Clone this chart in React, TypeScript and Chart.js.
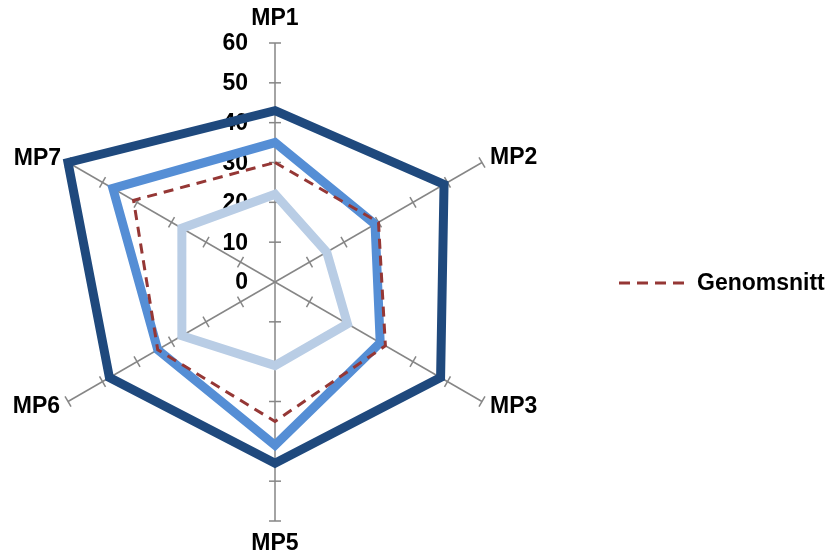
import React, { useEffect, useRef } from "react";
import { Chart, registerables } from "chart.js";

Chart.register(...registerables);

const categories = ["MP1", "MP2", "MP3", "MP5", "MP6", "MP7"];
const seriesDark = [43, 49, 48, 45.5, 48, 60];
const seriesMedium = [35, 29, 30.5, 41, 34, 47];
const seriesLight = [22, 15, 21, 21, 27, 27];
const seriesAverage = [30, 30, 32, 35, 34, 41];
const averageLabel = "Genomsnitt";
const tickValues = [0, 10, 20, 30, 40, 50, 60];

const FONT = "bold 23px 'Liberation Sans', Arial, sans-serif";
const AXIS_COLOR = "#868686";
const AVG_COLOR = "#953735";

const overlayPlugin = {
  id: "overlay",
  beforeDatasetsDraw(chart: any) {
    const scale = chart.scales.r;
    const ctx = chart.ctx;
    const n = categories.length;
    ctx.save();
    // tick marks on every axis
    ctx.strokeStyle = AXIS_COLOR;
    ctx.lineWidth = 1.5;
    for (let i = 0; i < n; i++) {
      const end = scale.getPointPositionForValue(i, scale.max);
      const dx = end.x - scale.xCenter;
      const dy = end.y - scale.yCenter;
      const len = Math.sqrt(dx * dx + dy * dy);
      const px = -dy / len;
      const py = dx / len;
      for (const v of tickValues) {
        if (v === 0) continue;
        const p = scale.getPointPositionForValue(i, v);
        ctx.beginPath();
        ctx.moveTo(p.x - px * 6, p.y - py * 6);
        ctx.lineTo(p.x + px * 6, p.y + py * 6);
        ctx.stroke();
      }
    }
    // tick labels
    ctx.fillStyle = "#000";
    ctx.font = FONT;
    ctx.textAlign = "right";
    ctx.textBaseline = "middle";
    for (const v of tickValues) {
      const p = scale.getPointPositionForValue(0, v);
      ctx.fillText(String(v), scale.xCenter - 27, p.y + 1);
    }
    // point labels
    const offsets = [
      { dx: 0, dy: -24, align: "center" },
      { dx: 8, dy: -5, align: "left" },
      { dx: 8, dy: 5, align: "left" },
      { dx: 0, dy: 23, align: "center" },
      { dx: -8, dy: 5, align: "right" },
      { dx: -7, dy: -4, align: "right" },
    ];
    for (let i = 0; i < n; i++) {
      const p = scale.getPointPositionForValue(i, scale.max);
      const o = offsets[i];
      ctx.textAlign = o.align as CanvasTextAlign;
      ctx.fillText(categories[i], p.x + o.dx, p.y + o.dy);
    }
    // legend
    ctx.strokeStyle = AVG_COLOR;
    ctx.lineWidth = 3;
    ctx.setLineDash([11, 7]);
    ctx.beginPath();
    ctx.moveTo(619, 283);
    ctx.lineTo(684, 283);
    ctx.stroke();
    ctx.setLineDash([]);
    ctx.textAlign = "left";
    ctx.fillStyle = "#000";
    ctx.fillText(averageLabel, 697, 284);
    ctx.restore();
  },
};

export default function App() {
  const ref = useRef<HTMLCanvasElement>(null);
  useEffect(() => {
    if (!ref.current) return;
    const common = {
      fill: false,
      pointRadius: 0,
      pointHoverRadius: 0,
      borderJoinStyle: "miter" as const,
      tension: 0,
    };
    const chart = new Chart(ref.current, {
      type: "radar",
      data: {
        labels: categories,
        datasets: [
          { ...common, label: averageLabel, data: seriesAverage, borderColor: AVG_COLOR, borderWidth: 3, borderDash: [10, 7], order: 0 },
          { ...common, label: "Serie 1", data: seriesDark, borderColor: "#1F497D", borderWidth: 9, order: 3 },
          { ...common, label: "Serie 2", data: seriesMedium, borderColor: "#558ED5", borderWidth: 9, order: 2 },
          { ...common, label: "Serie 3", data: seriesLight, borderColor: "#B9CDE5", borderWidth: 9, order: 1 },
        ],
      },
      options: {
        responsive: false,
        animation: false,
        layout: { padding: { left: 36, right: 316, top: 43, bottom: 38 } },
        plugins: { legend: { display: false }, tooltip: { enabled: false } },
        scales: {
          r: {
            min: 0,
            max: 60,
            ticks: { display: false, stepSize: 10 },
            grid: { display: false },
            angleLines: { display: true, color: AXIS_COLOR, lineWidth: 1.5 },
            pointLabels: { display: false },
          },
        },
      },
      plugins: [overlayPlugin],
    });
    return () => chart.destroy();
  }, []);
  return (
    <div style={{ position: "absolute", left: 0, top: 0, width: 830, height: 559, background: "#fff" }}>
      <canvas ref={ref} width={830} height={559} style={{ width: 830, height: 559 }} />
    </div>
  );
}
